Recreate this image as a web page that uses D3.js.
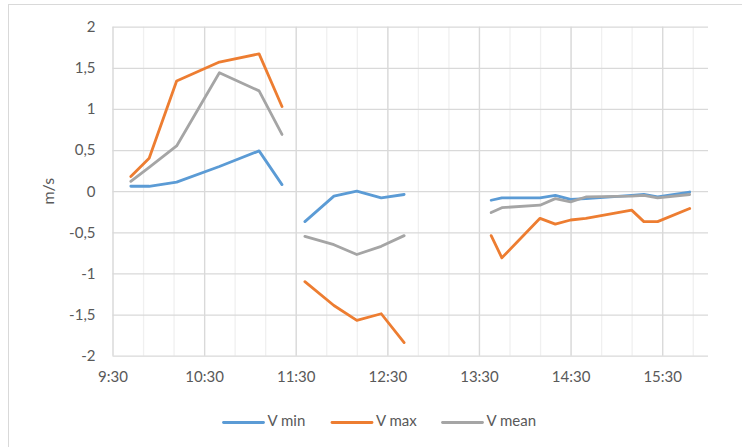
<!DOCTYPE html>
<html>
<head>
<meta charset="utf-8">
<script src="https://cdn.jsdelivr.net/npm/d3@7/dist/d3.min.js"></script>
<style>
  html, body { margin: 0; padding: 0; background: #ffffff; }
  svg { display: block; }
  text { font-family: Lato, "Open Sans", "Liberation Sans", sans-serif; fill: #595959; }
</style>
</head>
<body>
<svg id="chart" width="742" height="447"></svg>
<script>
// Sample times (hh:mm); null marks a break between measurement runs
const times = [
  "9:42", "9:54", "10:12", "10:40", "11:06", "11:21", null,
  "11:36", "11:55", "12:10", "12:26", "12:41", null,
  "13:38", "13:45", "14:10", "14:20", "14:30", "14:40", "15:10", "15:18", "15:27", "15:48"
];

// Velocities in m/s
const vMin = [
  0.06, 0.06, 0.11, 0.30, 0.49, 0.08, null,
  -0.37, -0.06, 0.00, -0.08, -0.04, null,
  -0.11, -0.08, -0.08, -0.05, -0.10, -0.09, -0.05, -0.04, -0.07, -0.01
];
const vMax = [
  0.18, 0.40, 1.34, 1.57, 1.67, 1.03, null,
  -1.10, -1.39, -1.57, -1.49, -1.84, null,
  -0.54, -0.81, -0.33, -0.40, -0.35, -0.33, -0.23, -0.37, -0.37, -0.21
];
const vMean = [
  0.12, 0.29, 0.55, 1.44, 1.22, 0.69, null,
  -0.55, -0.65, -0.77, -0.67, -0.54, null,
  -0.26, -0.20, -0.17, -0.09, -0.13, -0.07, -0.06, -0.05, -0.08, -0.04
];

const seriesNames = ["V min", "V max", "V mean"];
const seriesColors = ["#5B9BD5", "#ED7D31", "#A5A5A5"];

const yTicks = [-2, -1.5, -1, -0.5, 0, 0.5, 1, 1.5, 2];
const xTickLabels = ["9:30", "10:30", "11:30", "12:30", "13:30", "14:30", "15:30"];
const xStart = "9:30", xEnd = "16:00";

const parseTime = s => {
  const [h, m] = s.split(":").map(Number);
  return new Date(2000, 0, 1, h, m);
};

const svg = d3.select("#chart");
const W = 742, H = 447;
const plot = { left: 112.5, right: 708, top: 26.7, bottom: 355.7 };
const fontSize = "15px";

// outer chart frame
svg.append("rect")
  .attr("x", 8.5).attr("y", 4.5)
  .attr("width", W + 20).attr("height", H + 20)
  .attr("fill", "#ffffff").attr("stroke", "#D9D9D9").attr("stroke-width", 1);

const x = d3.scaleTime()
  .domain([parseTime(xStart), parseTime(xEnd)])
  .range([plot.left, plot.right]);
const y = d3.scaleLinear()
  .domain([-2, 2])
  .range([plot.bottom, plot.top]);

// minor vertical gridlines every 20 minutes
const minorTicks = d3.timeMinute.every(1).range(parseTime(xStart), parseTime(xEnd))
  .filter(d => ((d.getHours() * 60 + d.getMinutes()) - (9 * 60 + 30)) % 20 === 0);
svg.append("g")
  .attr("transform", `translate(0,${plot.bottom})`)
  .call(d3.axisBottom(x).tickValues(minorTicks).tickSize(-(plot.bottom - plot.top)).tickFormat(""))
  .call(g => g.select(".domain").remove())
  .call(g => g.selectAll("line").attr("stroke", "#F0F0F0").attr("stroke-width", 1.3));

// major vertical gridlines + hour labels
const majorTicks = xTickLabels.map(parseTime);
svg.append("g")
  .attr("transform", `translate(0,${plot.bottom})`)
  .call(d3.axisBottom(x).tickValues(majorTicks).tickSize(-(plot.bottom - plot.top))
    .tickFormat((d, i) => xTickLabels[i]).tickPadding(16))
  .call(g => g.select(".domain").remove())
  .call(g => g.selectAll("line").attr("stroke", "#D9D9D9").attr("stroke-width", 1.3))
  .call(g => g.selectAll("text").attr("font-size", fontSize).attr("fill", "#595959")
    .style("font-family", "Lato, 'Open Sans', sans-serif"));

// horizontal gridlines + value labels
svg.append("g")
  .attr("transform", `translate(${plot.left},0)`)
  .call(d3.axisLeft(y).tickValues(yTicks).tickSize(-(plot.right - plot.left))
    .tickFormat(d => String(d).replace(".", ",")).tickPadding(17))
  .call(g => g.select(".domain").remove())
  .call(g => g.selectAll("line").attr("stroke", "#D9D9D9").attr("stroke-width", 1.3))
  .call(g => g.selectAll("text").attr("font-size", fontSize).attr("fill", "#595959")
    .style("font-family", "Lato, 'Open Sans', sans-serif"));

// axis title
svg.append("text")
  .attr("transform", `translate(50,${(plot.top + plot.bottom) / 2}) rotate(-90)`)
  .attr("text-anchor", "middle")
  .attr("dominant-baseline", "middle")
  .attr("font-size", "16px")
  .text("m/s");

// series lines
const allSeries = [vMin, vMax, vMean];
const line = d3.line()
  .defined(d => d.t !== null && d.v !== null)
  .x(d => x(parseTime(d.t)))
  .y(d => y(d.v));

allSeries.forEach((vals, i) => {
  const pts = times.map((t, j) => ({ t, v: vals[j] }));
  svg.append("path")
    .datum(pts)
    .attr("fill", "none")
    .attr("stroke", seriesColors[i])
    .attr("stroke-width", 2.8)
    .attr("stroke-linejoin", "round")
    .attr("stroke-linecap", "round")
    .attr("d", line);
});

// legend
const legendX = [223.5, 332, 442.5];
const legend = svg.append("g");
seriesNames.forEach((name, i) => {
  const g = legend.append("g").attr("transform", `translate(${legendX[i]},422.5)`);
  g.append("line")
    .attr("x1", 0).attr("x2", 40).attr("y1", 0).attr("y2", 0)
    .attr("stroke", seriesColors[i]).attr("stroke-width", 2.8).attr("stroke-linecap", "round");
  g.append("text")
    .attr("x", 44).attr("y", 0)
    .attr("dominant-baseline", "middle")
    .attr("font-size", fontSize)
    .text(name);
});
</script>
</body>
</html>
